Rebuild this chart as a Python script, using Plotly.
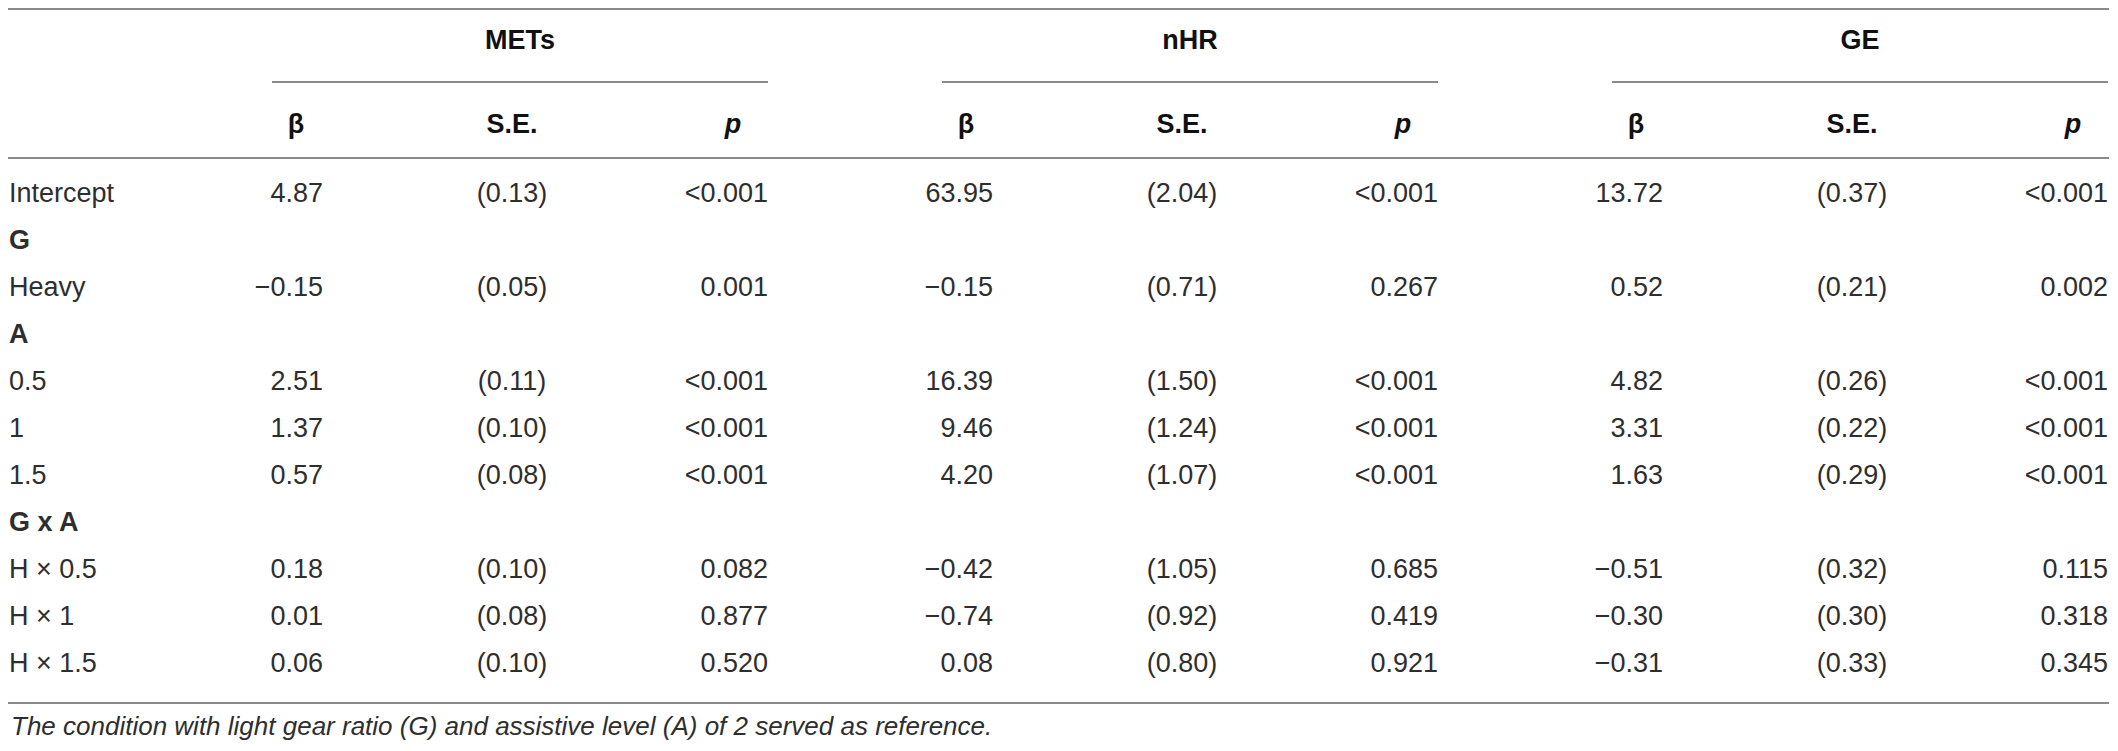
import plotly.graph_objects as go

# Table content
row_labels = ["Intercept", "G", "Heavy", "A", "0.5", "1", "1.5", "G x A",
              "H × 0.5", "H × 1", "H × 1.5"]
bold_rows = ["G", "A", "G x A"]

groups = ["METs", "nHR", "GE"]
sub_headers = ["β", "S.E.", "p"]

mets_beta = [4.87, None, -0.15, None, 2.51, 1.37, 0.57, None, 0.18, 0.01, 0.06]
mets_se = [0.13, None, 0.05, None, 0.11, 0.10, 0.08, None, 0.10, 0.08, 0.10]
mets_p = ["<0.001", "", "0.001", "", "<0.001", "<0.001", "<0.001", "", "0.082", "0.877", "0.520"]

nhr_beta = [63.95, None, -0.15, None, 16.39, 9.46, 4.20, None, -0.42, -0.74, 0.08]
nhr_se = [2.04, None, 0.71, None, 1.50, 1.24, 1.07, None, 1.05, 0.92, 0.80]
nhr_p = ["<0.001", "", "0.267", "", "<0.001", "<0.001", "<0.001", "", "0.685", "0.419", "0.921"]

ge_beta = [13.72, None, 0.52, None, 4.82, 3.31, 1.63, None, -0.51, -0.30, -0.31]
ge_se = [0.37, None, 0.21, None, 0.26, 0.22, 0.29, None, 0.32, 0.30, 0.33]
ge_p = ["<0.001", "", "0.002", "", "<0.001", "<0.001", "<0.001", "", "0.115", "0.318", "0.345"]

footnote = "The condition with light gear ratio (G) and assistive level (A) of 2 served as reference."

# Layout: axes are set up so one unit = one page pixel (page body has an 8px margin)
W, H = 2118, 751
PAD = 8
ROW0, ROW_H = 195, 47
GROUP_STEP = 670
beta_right, se_center, p_right = 323, 512, 768
beta_head, p_head = 296, 733
line_start, line_end = 272, 768
LABEL_X = 9
X_MAX = W - PAD
TEXT = "#2e2e2e"
HEAD = "#111111"
RULE = "#8a8a8a"
FONT = "Liberation Sans"
FS = 27


def fmt_beta(v):
    if v is None:
        return ""
    s = f"{abs(v):.2f}"
    return ("−" + s) if v < 0 else s


def fmt_se(v):
    return "" if v is None else f"({v:.2f})"


def esc(s):
    return s.replace("<", "&lt;")


def text_trace(x, y, text, pos, color=TEXT):
    return go.Scatter(
        x=x, y=y, mode="text", text=text, textposition=pos,
        textfont=dict(family=FONT, size=FS, color=color),
        hoverinfo="skip", showlegend=False, cliponaxis=False,
    )


row_y = [ROW0 + ROW_H * i for i in range(len(row_labels))]

fig = go.Figure()

# row labels
fig.add_trace(text_trace(
    [LABEL_X] * len(row_labels), row_y,
    [f"<b>{r}</b>" if r in bold_rows else r for r in row_labels],
    "middle right",
))

cols = [(mets_beta, mets_se, mets_p), (nhr_beta, nhr_se, nhr_p), (ge_beta, ge_se, ge_p)]
for g, (beta, se, p) in enumerate(cols):
    off = g * GROUP_STEP
    fig.add_trace(text_trace([beta_right + off] * len(beta), row_y,
                             [fmt_beta(v) for v in beta], "middle left"))
    fig.add_trace(text_trace([se_center + off] * len(se), row_y,
                             [fmt_se(v) for v in se], "middle center"))
    fig.add_trace(text_trace([p_right + off] * len(p), row_y,
                             [esc(v) for v in p], "middle left"))
    # group title and sub headers
    fig.add_trace(text_trace([(line_start + line_end) / 2 + off], [42],
                             [f"<b>{groups[g]}</b>"], "middle center", HEAD))
    fig.add_trace(text_trace(
        [beta_head + off, se_center + off, p_head + off], [126] * 3,
        [f"<b>{sub_headers[0]}</b>", f"<b>{sub_headers[1]}</b>", f"<b><i>{sub_headers[2]}</i></b>"],
        "middle center", HEAD))
    fig.add_shape(type="line", x0=line_start + off, x1=min(line_end + off, X_MAX - 1),
                  y0=82, y1=82, line=dict(color=RULE, width=2))

for yy in [PAD + 1, 158, 703]:
    fig.add_shape(type="line", x0=PAD, x1=X_MAX - 1, y0=yy, y1=yy,
                  line=dict(color=RULE, width=2))

fig.add_annotation(
    x=LABEL_X, y=726, xref="x", yref="y", xanchor="left", yanchor="middle",
    text=f"<i>{footnote}</i>", showarrow=False,
    font=dict(family=FONT, size=FS - 1, color=TEXT),
)

fig.update_layout(
    width=W - 2 * PAD, height=H - 2 * PAD,
    margin=dict(l=0, r=0, t=0, b=0),
    paper_bgcolor="white", plot_bgcolor="white",
    xaxis=dict(range=[PAD, W - PAD], visible=False, fixedrange=True),
    yaxis=dict(range=[H - PAD, PAD], visible=False, fixedrange=True),
)

fig.write_html("out.html", config={"displayModeBar": False})
